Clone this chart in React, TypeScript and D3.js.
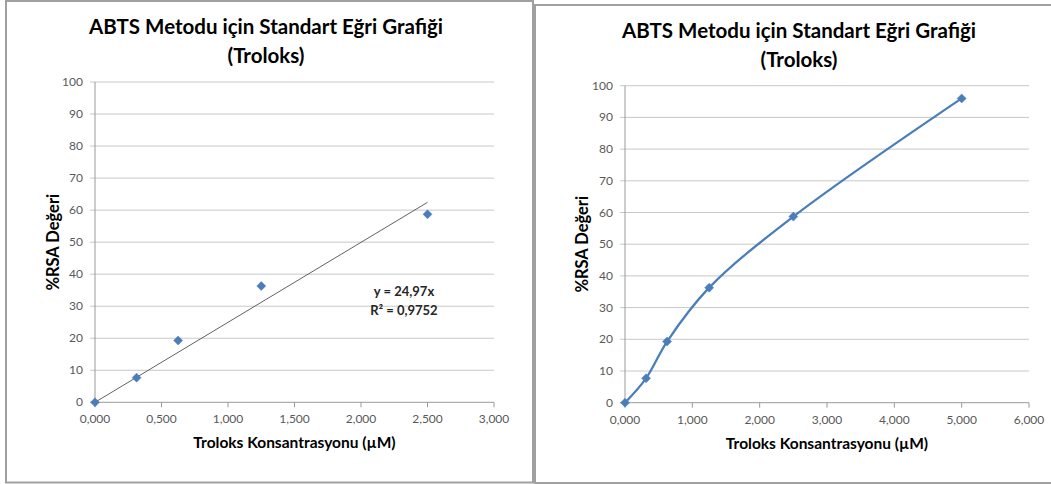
import React from "react";
import * as d3 from "d3";

const titleLine1 = "ABTS Metodu için Standart Eğri Grafiği";
const titleLine2 = "(Troloks)";
const xTitle = "Troloks Konsantrasyonu (µM)";
const yTitle = "%RSA Değeri";

// Left chart data
const leftX = [0, 0.3125, 0.625, 1.25, 2.5];
const leftY = [0, 7.7, 19.3, 36.3, 58.7];
const leftXTicks = [0, 0.5, 1, 1.5, 2, 2.5, 3];
const slope = 24.97;
const eqText = "y = 24,97x";
const r2Text = "R² = 0,9752";

// Right chart data
const rightX = [0, 0.3125, 0.625, 1.25, 2.5, 5];
const rightY = [0, 7.7, 19.3, 36.3, 58.7, 96.0];
const rightXTicks = [0, 1, 2, 3, 4, 5, 6];

const yTicks = [0, 10, 20, 30, 40, 50, 60, 70, 80, 90, 100];

const FONT = "Lato, 'Open Sans', sans-serif";
const fmtX = (v: number) => v.toFixed(3).replace(".", ",");

type PanelProps = {
  box: [number, number, number, number];
  plot: { x0: number; x1: number; y0: number; y1: number };
  xs: number[];
  ys: number[];
  xTicks: number[];
  cx: number;
  titleY: number;
  yTitleX: number;
  xTitleY: number;
  smooth: boolean;
  trend?: boolean;
};

function Panel(p: PanelProps) {
  const { plot } = p;
  const x = d3.scaleLinear().domain([p.xTicks[0], p.xTicks[p.xTicks.length - 1]]).range([plot.x0, plot.x1]);
  const y = d3.scaleLinear().domain([0, 100]).range([plot.y1, plot.y0]);
  const pts = p.xs.map((v, i) => [x(v), y(p.ys[i])] as [number, number]);
  const line = d3.line().curve(p.smooth ? d3.curveCatmullRom.alpha(0.5) : d3.curveLinear)(pts) || "";
  const plotCx = (plot.x0 + plot.x1) / 2;
  const plotCy = (plot.y0 + plot.y1) / 2;
  const dm = 4.5;
  return (
    <g>
      <rect x={p.box[0]} y={p.box[1]} width={p.box[2]} height={p.box[3]} fill="#fff" stroke="#a0a0a0" strokeWidth={2} />
      <text x={p.cx} y={p.titleY} textAnchor="middle" fontFamily={FONT} fontWeight="bold" fontSize={20.5} fill="#000">{titleLine1}</text>
      <text x={p.cx} y={p.titleY + 29} textAnchor="middle" fontFamily={FONT} fontWeight="bold" fontSize={20.5} fill="#000">{titleLine2}</text>
      {yTicks.map((t) => (
        <g key={"y" + t}>
          {t > 0 && <line x1={plot.x0 - 5} x2={plot.x1} y1={y(t)} y2={y(t)} stroke="#c8c8c8" strokeWidth={1} />}
          {t === 0 && <line x1={plot.x0 - 5} x2={plot.x0} y1={y(t)} y2={y(t)} stroke="#9a9a9a" strokeWidth={1} />}
          <text x={plot.x0 - 12} y={y(t) + 4} textAnchor="end" fontFamily={FONT} fontSize={12} fill="#595959">{t}</text>
        </g>
      ))}
      <line x1={plot.x0} x2={plot.x0} y1={plot.y0} y2={plot.y1} stroke="#9a9a9a" strokeWidth={1} />
      <line x1={plot.x0} x2={plot.x1} y1={plot.y1} y2={plot.y1} stroke="#9a9a9a" strokeWidth={1} />
      {p.xTicks.map((t) => (
        <g key={"x" + t}>
          <line x1={x(t)} x2={x(t)} y1={plot.y1} y2={plot.y1 + 5} stroke="#9a9a9a" strokeWidth={1} />
          <text x={x(t)} y={plot.y1 + 21} textAnchor="middle" fontFamily={FONT} fontSize={12} fill="#595959">{fmtX(t)}</text>
        </g>
      ))}
      <text transform={`translate(${p.yTitleX},${plotCy}) rotate(-90)`} textAnchor="middle" fontFamily={FONT} fontWeight="bold" fontSize={16.5} fill="#000">{yTitle}</text>
      <text x={plotCx} y={p.xTitleY} textAnchor="middle" fontFamily={FONT} fontWeight="bold" fontSize={15.5} fill="#000">{xTitle}</text>
      {p.smooth && <path d={line} fill="none" stroke="#4a7ebb" strokeWidth={2.25} />}
      {p.trend && (
        <line x1={x(0)} y1={y(0)} x2={x(2.5)} y2={y(slope * 2.5)} stroke="#505050" strokeWidth={0.9} />
      )}
      {pts.map(([px, py], i) => (
        <path key={i} d={`M${px},${py - dm}L${px + dm},${py}L${px},${py + dm}L${px - dm},${py}Z`} fill="#4a7ebb" stroke="#4a7ebb" strokeWidth={0.5} />
      ))}
    </g>
  );
}

export default function App() {
  return (
    <svg width={1051} height={484} style={{ position: "absolute", left: 0, top: 0, background: "#fff" }}>
      <Panel
        box={[6, 1, 527, 481.5]}
        plot={{ x0: 95, x1: 494, y0: 82, y1: 402.3 }}
        xs={leftX}
        ys={leftY}
        xTicks={leftXTicks}
        cx={266}
        titleY={34}
        yTitleX={59}
        xTitleY={448}
        smooth={false}
        trend
      />
      <text x={404} y={296} textAnchor="middle" fontFamily={FONT} fontWeight="bold" fontSize={13} fill="#262626">{eqText}</text>
      <text x={404} y={315} textAnchor="middle" fontFamily={FONT} fontWeight="bold" fontSize={13} fill="#262626">{r2Text}</text>
      <Panel
        box={[535, 5, 530, 478]}
        plot={{ x0: 625, x1: 1029, y0: 85.7, y1: 402.7 }}
        xs={rightX}
        ys={rightY}
        xTicks={rightXTicks}
        cx={799}
        titleY={38}
        yTitleX={588}
        xTitleY={449}
        smooth
      />
    </svg>
  );
}
